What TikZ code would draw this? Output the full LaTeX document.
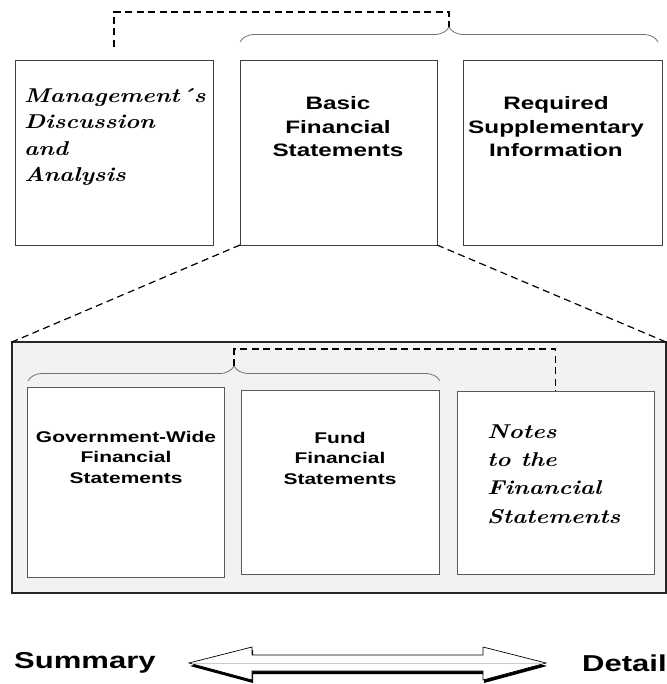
\documentclass[tikz,border=0pt]{standalone}
\usepackage{fontspec}
\newfontfamily\hsans{Liberation Sans}[FakeStretch=1.35]
\newfontfamily\scrf{Latin Modern Roman}[FakeStretch=1.2]
\usetikzlibrary{decorations.pathreplacing,calc}
\begin{document}
\begin{tikzpicture}[x=1pt,y=-1pt,
  topbox/.style={draw=black!75, line width=0.9pt, fill=white, inner sep=0pt, outer sep=0pt, anchor=north west},
  inbox/.style={draw=black!65, line width=0.9pt, fill=white, inner sep=0pt, outer sep=0pt, anchor=north west},
  bigsans/.style={font=\hsans\bfseries\fontsize{18}{23.5}\selectfont, align=center, inner sep=0pt},
  smallsans/.style={font=\hsans\bfseries\fontsize{15.5}{20.5}\selectfont, align=center, inner sep=0pt},
  scripttxt/.style={font=\scrf\bfseries\itshape\fontsize{20}{26.5}\selectfont, align=left, inner sep=0pt, anchor=west},
  scripttxtb/.style={font=\scrf\bfseries\itshape\fontsize{20}{28.3}\selectfont, align=left, inner sep=0pt, anchor=west},
  endlabel/.style={font=\hsans\bfseries\fontsize{23}{27}\selectfont, inner sep=0pt, anchor=west},
  dashline/.style={draw=black, line width=1.2pt, dash pattern=on 7pt off 4.5pt},
  bracestyle/.style={draw=black!55, line width=0.8pt, decorate, decoration={brace, amplitude=15pt}}
]
\useasboundingbox (0,0) rectangle (666,684);

% top boxes
\node[topbox, minimum width=198pt, minimum height=185pt] (mda) at (15,60) {};
\node[topbox, minimum width=197pt, minimum height=185pt] (bfs) at (240,60) {};
\node[topbox, minimum width=199pt, minimum height=185pt] (rsi) at (463,60) {};

\node[scripttxt] (mdatxt) at (24,137) {Management´s\\Discussion\\and\\Analysis};
\node[bigsans] (bfstxt) at (338,127) {Basic\\Financial\\Statements};
\node[bigsans] (rsitxt) at (556,127) {Required\\Supplementary\\Information};

% outer box
\node[draw=black!85, line width=1.2pt, fill=black!5, inner sep=0pt, outer sep=0pt, anchor=north west,
      minimum width=654pt, minimum height=251pt] (outer) at (12,342) {};

% inner boxes
\node[inbox, minimum width=197pt, minimum height=190pt] (gov) at (27,387) {};
\node[inbox, minimum width=198pt, minimum height=184pt] (fund) at (241,390) {};
\node[inbox, minimum width=197pt, minimum height=183pt] (notes) at (457,391) {};

\node[smallsans] (govtxt) at (126,457) {Government-Wide\\Financial\\Statements};
\node[smallsans] (fundtxt) at (340,458) {Fund\\Financial\\Statements};
\node[scripttxtb] (notestxt) at (487,474) {Notes\\to the\\Financial\\Statements};

% zoom lines
\draw[dashline] (bfs.south west) -- (outer.north west);
\draw[dashline] (bfs.south east) -- (outer.north east);

% top brace and dashed link
\coordinate (tbl) at (240,42);
\coordinate (tbr) at (658,42);
\coordinate (ttip) at (449,27);
\coordinate (mdatop) at ($(mda.north)+(0,-13)$);
\coordinate (tcorner) at (449,12);
\draw[bracestyle] (tbl) -- (tbr);
\draw[dashline] (mdatop) |- (tcorner) -- (ttip);

% inner brace and dashed link
\coordinate (ibl) at (28,381);
\coordinate (ibr) at (440,381);
\coordinate (itip) at (234,366);
\coordinate (icorner) at (234,349);
\draw[bracestyle] (ibl) -- (ibr);
\draw[dashline] (itip) -- (icorner) -| (notes.north);

% bottom arrow
\node[endlabel] (summ) at (14,663) {Summary};
\node[endlabel] (det) at (582,663) {Detail};
\begin{scope}[shift={(1,3)}]
\fill[black] (189,663) -- (252,647) -- (252,655) -- (483,655) -- (483,647) -- (546,663)
  -- (483,680) -- (483,671) -- (252,671) -- (252,680) -- cycle;
\end{scope}
\filldraw[fill=white, draw=black, line width=0.7pt] (189,663) -- (252,647) -- (252,655) -- (483,655) -- (483,647) -- (546,663)
  -- (483,680) -- (483,671) -- (252,671) -- (252,680) -- cycle;
\draw[black!20, line width=0.5pt] (192,663) -- (543,663);
\end{tikzpicture}
\end{document}
